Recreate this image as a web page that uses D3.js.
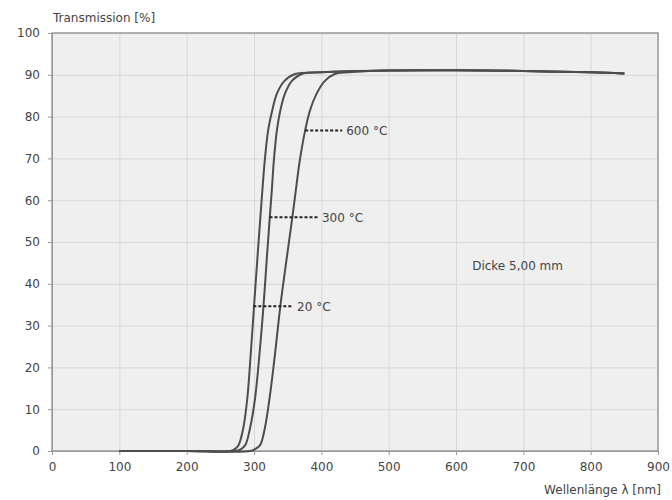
<html>
<head>
<meta charset="UTF-8">
<title>Transmission</title>
<script src="https://cdn.jsdelivr.net/npm/d3@7"></script>
<style>
  body { margin: 0; background: #fff; }
  .axis text { font: 12px "DejaVu Sans", sans-serif; fill: #444; }
  .axis path { stroke: #999; }
  .axis line { stroke: #999; }
  .grid line { stroke: #d8d8d8; stroke-width: 1px; }
  .grid path { stroke: none; }
  .curve { fill: none; stroke: #4d4d4d; stroke-width: 2px; }
  .lbl { font: 12px "DejaVu Sans", sans-serif; fill: #444; }
</style>
</head>
<body>
<svg width="672" height="500"></svg>
<script>
// Werte (Wellenlänge nm, Transmission %)
var xTicks = [0, 100, 200, 300, 400, 500, 600, 700, 800, 900];
var yTicks = [0, 10, 20, 30, 40, 50, 60, 70, 80, 90, 100];

var wl20  = [100, 200, 265, 272, 277, 284, 290, 295, 300, 305, 309.5, 312.5, 316, 321, 327, 334, 345, 361, 400, 500, 600, 700, 800, 850];
var t20   = [0, 0, 0, 0.5, 1.4, 5.4, 12.5, 22.9, 34.5, 46, 56, 62.5, 69.5, 76.7, 81.4, 85.5, 88.5, 90.2, 90.6, 91, 91.1, 90.9, 90.6, 90.3];

var wl300 = [100, 200, 272, 280, 287, 294, 301.5, 308, 314, 319, 323.5, 326.5, 329.5, 334, 339, 346, 356, 373, 400, 500, 600, 700, 800, 850];
var t300  = [0, 0, 0, 0.4, 1.4, 5.4, 12.5, 22.9, 34.5, 46, 56, 62.5, 69.5, 76.7, 81.4, 85.5, 88.5, 90.3, 90.6, 91, 91.1, 90.9, 90.6, 90.3];

var wl600 = [100, 200, 295, 301, 309, 316, 323, 331, 339, 348.5, 357, 361.5, 368, 376, 383, 393, 405, 420, 450, 500, 600, 700, 800, 850];
var t600  = [0, 0, 0, 0.4, 1.4, 5.4, 12.5, 22.9, 34.5, 46, 56, 61.6, 69.5, 76.7, 81.4, 85.5, 88.5, 90.2, 90.7, 91, 91.1, 90.9, 90.6, 90.3];

var labels = [
  { text: "600 °C", x0: 376, x1: 431, y: 76.7 },
  { text: "300 °C", x0: 323, x1: 395, y: 55.9 },
  { text: "20 °C",  x0: 299, x1: 358, y: 34.6 }
];

var margin = { top: 33, right: 14, bottom: 49, left: 52 },
    svg = d3.select('svg'),
    width = +svg.attr('width') - margin.left - margin.right,
    height = +svg.attr('height') - margin.top - margin.bottom,
    g = svg.append('g').attr('transform', 'translate(' + margin.left + ',' + margin.top + ')');

var x = d3.scaleLinear().domain([0, 900]).range([0, width]);
var y = d3.scaleLinear().domain([0, 100]).range([height, 0]);

g.append('rect').attr('width', width).attr('height', height).attr('fill', '#efefef');

g.append('g').attr('class', 'grid')
  .call(d3.axisLeft(y).tickValues(yTicks).tickSize(-width).tickFormat(''));
g.append('g').attr('class', 'grid')
  .attr('transform', 'translate(0,' + height + ')')
  .call(d3.axisBottom(x).tickValues(xTicks).tickSize(-height).tickFormat(''));

g.append('rect').attr('width', width).attr('height', height)
  .attr('fill', 'none').attr('stroke', '#9a9a9a').attr('stroke-width', 1.5);

g.append('g').attr('class', 'axis')
  .call(d3.axisLeft(y).tickValues(yTicks).tickSize(4).tickPadding(8));
g.append('g').attr('class', 'axis')
  .attr('transform', 'translate(0,' + height + ')')
  .call(d3.axisBottom(x).tickValues(xTicks).tickSize(4).tickPadding(7));

var line = d3.line()
  .x(function (d) { return x(d[0]); })
  .y(function (d) { return y(d[1]); })
  .curve(d3.curveCatmullRom.alpha(0.5));

[[wl20, t20], [wl300, t300], [wl600, t600]].forEach(function (s) {
  g.append('path').attr('class', 'curve')
    .attr('d', line(d3.zip(s[0], s[1])));
});

labels.forEach(function (l) {
  g.append('line')
    .attr('x1', x(l.x0)).attr('x2', x(l.x1))
    .attr('y1', y(l.y)).attr('y2', y(l.y))
    .attr('stroke', '#222').attr('stroke-width', 2)
    .attr('stroke-dasharray', '3,2');
  g.append('text').attr('class', 'lbl')
    .attr('x', x(l.x1) + 4).attr('y', y(l.y))
    .attr('dy', '0.35em').text(l.text);
});

g.append('text').attr('class', 'lbl')
  .attr('x', x(624)).attr('y', y(44.2)).attr('dy', '0.35em')
  .text('Dicke 5,00 mm');

svg.append('text').attr('class', 'lbl')
  .attr('x', 53).attr('y', 22).text('Transmission [%]');
svg.append('text').attr('class', 'lbl')
  .attr('x', 661).attr('y', 494).attr('text-anchor', 'end').text('Wellenlänge λ [nm]');
</script>
</body>
</html>
